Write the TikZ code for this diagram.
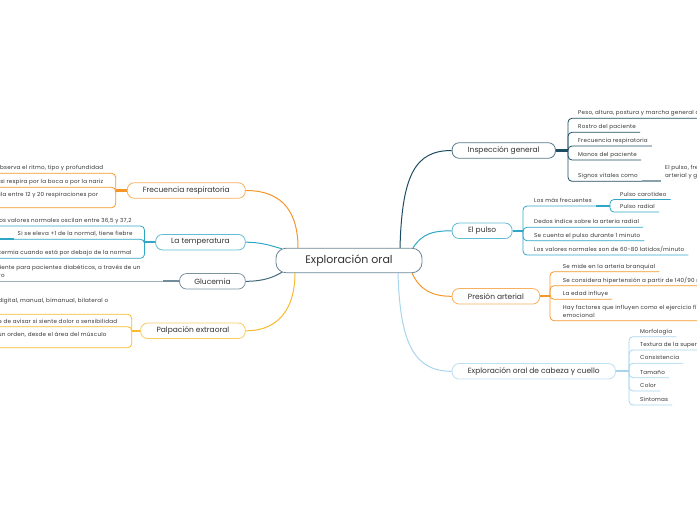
\documentclass[tikz,border=0pt]{standalone}
\usepackage{fontspec}
\setmainfont{Poppins}
\newfontfamily\leaffont[LetterSpace=4]{Poppins}
\usepackage{tikz}
\definecolor{ink}{HTML}{333333}
\definecolor{cmain}{HTML}{6B8796}
\definecolor{cnavy}{HTML}{1E4D63}
\definecolor{cteal}{HTML}{2FA6C6}
\definecolor{corange}{HTML}{F5962A}
\definecolor{cyellow}{HTML}{F6BB2E}
\definecolor{clight}{HTML}{A8D5EC}
\definecolor{cslate}{HTML}{4F6F82}
\tikzset{
  mainbox/.style={draw=cmain, line width=0.8pt, rounded corners=10pt, fill=white, text=ink,
    font=\fontsize{11}{13}\selectfont, minimum width=146pt, minimum height=24.5pt, inner sep=0pt},
  topic/.style={draw=#1!75, line width=0.8pt, rounded corners=7pt, fill=white, text=ink,
    font=\fontsize{7.5}{9}\selectfont, minimum height=15.5pt, inner sep=0pt},
  link/.style={draw=#1, line width=1pt},
  stub/.style={draw=#1, line width=2.2pt},
  uline/.style={draw=#1, line width=0.8pt, rounded corners=4pt},
  leafR/.style={anchor=south west, inner xsep=4pt, inner ysep=1.8pt, text depth=1.5pt, text=ink,
    font=\leaffont\fontsize{5.6}{8}\selectfont, align=left},
  leafL/.style={leafR, anchor=south east},
}
\begin{document}
\begin{tikzpicture}[x=1pt,y=-1pt]
  \useasboundingbox (0,0) rectangle (697,520);

  % central topic
  \node[mainbox] (main) at (349,260.5) {Exploración oral};

  % topics, right
  \node[topic=cnavy, minimum width=103.3pt, anchor=west] (insp) at (451.7,150.5) {Inspección general};
  \node[topic=cteal, minimum width=60pt, anchor=west] (pulso) at (451.7,230.8) {El pulso};
  \node[topic=corange, minimum width=87.6pt, anchor=west] (pres) at (451.7,296.3) {Presión arterial};
  \node[topic=clight, minimum width=163.3pt, anchor=west] (cab) at (451.7,371.3) {Exploración oral de cabeza y cuello};

  % topics, left
  \node[topic=corange, minimum width=118pt, anchor=east] (freq) at (245.7,190.5) {Frecuencia respiratoria};
  \node[topic=cteal, minimum width=89.7pt, anchor=east] (temp) at (245.7,242.2) {La temperatura};
  \node[topic=cslate, minimum width=65.7pt, anchor=east] (gluc) at (245.7,281.3) {Glucemia};
  \node[topic=cyellow, minimum width=104.7pt, anchor=east] (palp) at (245.7,330.8) {Palpación extraoral};

  % main links
  \draw[link=cnavy] ([xshift=51pt]main.north) .. controls (402,175) and (415,150.5) .. (insp.west);
  \draw[link=cteal] ([xshift=64pt]main.north) .. controls (422,234) and (432,230.8) .. (pulso.west);
  \draw[link=corange] ([xshift=63pt]main.south) .. controls (420,290) and (432,296.3) .. (pres.west);
  \draw[link=clight] ([xshift=49pt]main.south) .. controls (400,345) and (415,371.3) .. (cab.west);
  \draw[link=corange] (freq.east) .. controls (285,190.5) and (298,215) .. ([xshift=-51pt]main.north);
  \draw[link=cteal] (temp.east) .. controls (262,242.2) and (272,246) .. ([xshift=-67pt,yshift=-1pt]main.north);
  \draw[link=cnavy!85] (gluc.east) .. controls (264,281.3) and (274,277) .. ([xshift=-67pt,yshift=1pt]main.south);
  \draw[link=cyellow] (palp.east) .. controls (285,330.8) and (295,300) .. ([xshift=-54pt]main.south);

  % bracket points
  \coordinate (iB) at (568,150.5);
  \coordinate (pB) at (523,230.8);
  \coordinate (pS) at (610,206);
  \coordinate (aB) at (550,296.3);
  \coordinate (cB) at (629,371.3);
  \coordinate (fB) at (115.7,190.5);
  \coordinate (tB) at (144.5,242.2);
  \coordinate (gB) at (163.3,281.3);
  \coordinate (lB) at (131.7,330.8);

  % Inspeccion general
  \node[leafR] (i1) at (574,118.3) {Peso, altura, postura y marcha general del paciente};
  \node[leafR] (i2) at (574,132.3) {Rostro del paciente};
  \node[leafR] (i3) at (574,146) {Frecuencia respiratoria};
  \node[leafR] (i4) at (574,160) {Manos del paciente};
  \node[leafR] (i5) at (574,181.3) {Signos vitales como};
  \node[leafR] (i51) at (661,181.3) {El pulso, frecuencia respiratoria, presión\\arterial y glucemia};
  \draw[stub=cnavy] (insp.east) -- (iB);
  \draw[uline=cnavy] (iB) |- (i1.south east);
  \draw[uline=cnavy] (iB) |- (i2.south east);
  \draw[uline=cnavy] (iB) |- (i3.south east);
  \draw[uline=cnavy] (iB) |- (i4.south east);
  \draw[uline=cnavy] (iB) |- (i5.south east);
  \draw[stub=cmain!80] (i5.south east) -- (i51.south west);

  % El pulso
  \node[leafR] (p1) at (530,206) {Los más frecuentes};
  \node[leafR] (p11) at (616,199.5) {Pulso carotídeo};
  \node[leafR] (p12) at (616,212) {Pulso radial};
  \node[leafR] (p2) at (530,227.3) {Dedos índice sobre la arteria radial};
  \node[leafR] (p3) at (530,240.7) {Se cuenta el pulso durante 1 minuto};
  \node[leafR] (p4) at (530,255) {Los valores normales son de 60-80 latidos/minuto};
  \draw[stub=cteal] (pulso.east) -- (pB);
  \draw[uline=cteal] (pB) |- (p1.south east);
  \draw[uline=cteal] (pB) |- (p2.south east);
  \draw[uline=cteal] (pB) |- (p3.south east);
  \draw[uline=cteal] (pB) |- (p4.south east);
  \draw[stub=cteal] (p1.south east) -- (pS);
  \draw[uline=cteal] (pS) |- (p11.south east);
  \draw[uline=cteal] (pS) |- (p12.south east);

  % Presion arterial
  \node[leafR] (a1) at (558.7,271.7) {Se mide en la arteria branquial};
  \node[leafR] (a2) at (558.7,285.7) {Se considera hipertensión a partir de 140/90 mmHg};
  \node[leafR] (a3) at (558.7,299.3) {La edad influye};
  \node[leafR] (a4) at (558.7,320.7) {Hay factores que influyen como el ejercicio físico y el estrés\\emocional};
  \draw[stub=corange] (pres.east) -- (aB);
  \draw[uline=corange] (aB) |- (a1.south east);
  \draw[uline=corange] (aB) |- (a2.south east);
  \draw[uline=corange] (aB) |- (a3.south east);
  \draw[uline=corange] (aB) |- (a4.south east);

  % Cabeza y cuello
  \node[leafR] (c1) at (636,336.7) {Morfología};
  \node[leafR] (c2) at (636,350) {Textura de la superficie};
  \node[leafR] (c3) at (636,363.3) {Consistencia};
  \node[leafR] (c4) at (636,377.7) {Tamaño};
  \node[leafR] (c5) at (636,391) {Color};
  \node[leafR] (c6) at (636,405) {Síntomas};
  \draw[stub=clight] (cab.east) -- (cB);
  \draw[uline=clight] (cB) |- (c1.south east);
  \draw[uline=clight] (cB) |- (c2.south east);
  \draw[uline=clight] (cB) |- (c3.south east);
  \draw[uline=clight] (cB) |- (c4.south east);
  \draw[uline=clight] (cB) |- (c5.south east);
  \draw[uline=clight] (cB) |- (c6.south east);

  % Frecuencia respiratoria
  \node[leafL] (f1) at (107.3,173.3) {Se observa el ritmo, tipo y profundidad};
  \node[leafL] (f2) at (107.3,187.3) {Observar si respira por la boca o por la nariz};
  \node[leafL, text depth=9pt] (f3) at (102.3,207.7) {Oscila entre 12 y 20 respiraciones por};
  \draw[stub=corange] (freq.west) -- (fB);
  \draw[uline=corange] (fB) |- (f1.south west);
  \draw[uline=corange] (fB) |- (f2.south west);
  \draw[uline=corange] (fB) |- (f3.south west);

  % La temperatura
  \node[leafL] (t1) at (135.7,226) {Los valores normales oscilan entre 36,5 y 37,2};
  \node[leafL] (t2) at (136.7,239.3) {Si se eleva +1 de la normal, tiene fiebre};
  \node[leafL] (t3) at (135.7,258.3) {Hay hipotermia cuando está por debajo de la normal};
  \coordinate (t2end) at (-5,239.3);
  \draw[stub=cteal] (temp.west) -- (tB);
  \draw[uline=cteal] (tB) |- (t1.south west);
  \draw[uline=cteal] (tB) |- (t2.south west);
  \draw[uline=cteal] (tB) |- (t3.south west);
  \draw[stub=cteal] (t2.south west) -- (t2end);

  % Glucemia
  \node[leafL] (g1) at (144.7,281.3) {Es conveniente para pacientes diabéticos, a través de un\\glucómetro};
  \draw[stub=cslate!80] (gluc.west) -- (gB);
  \draw[uline=cslate!55] (gB) -- (g1.south west);

  % Palpacion extraoral
  \node[leafL] (l1) at (112.3,314.3) {Puede ser digital, manual, bimanual, bilateral o\\circular};
  \node[leafL] (l2) at (121.3,326.7) {El paciente debe de avisar si siente dolor o sensibilidad};
  \node[leafL] (l3) at (110.7,347.7) {Seguir un orden, desde el área del músculo\\laringe.};
  \draw[stub=cyellow] (palp.west) -- (lB);
  \draw[uline=cyellow] (lB) |- (l1.south west);
  \draw[uline=cyellow] (lB) |- (l2.south west);
  \draw[uline=cyellow] (lB) |- (l3.south west);
\end{tikzpicture}
\end{document}
